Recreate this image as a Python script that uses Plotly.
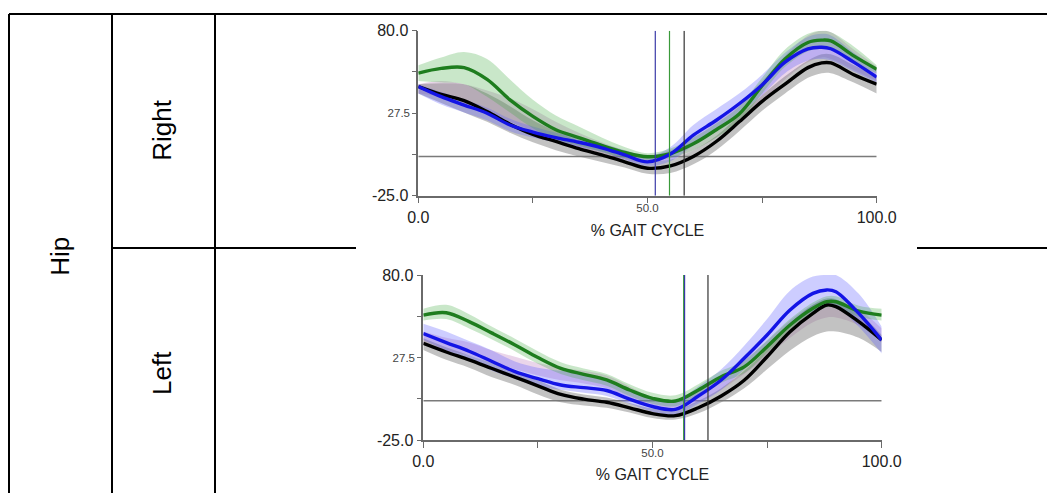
import plotly.graph_objects as go

W, H = 1047, 493

# ---------------- data ----------------
X = [0, 5, 10, 15, 20, 25, 30, 35, 40, 45, 50, 55, 60, 65, 70, 75, 80, 85, 88, 90, 95, 100]

# Right hip
R_green = [53, 56, 56.5, 49, 36, 25.5, 17, 12, 7, 2.5, -0.2, 1.8, 8, 17, 27, 45, 62, 72.5, 74, 73.5, 64, 55.5]
R_blue = [44.5, 38, 32.7, 27.5, 20, 15.5, 12, 9, 5.5, 1, -3.5, 1.5, 13.5, 23, 33.5, 45.5, 60, 68.5, 69.5, 68.5, 60, 50.5]
R_black = [44.5, 39.5, 35.5, 28.5, 20.5, 14, 9.5, 5, 1, -3.4, -7.5, -6, 0, 9.5, 22, 35, 46, 56.5, 59.5, 59.5, 52, 46]
R_green_hi = [58, 63, 66.5, 62, 49, 36, 26, 19, 12, 6, 2, 5, 12, 21, 32, 50, 68, 78, 80, 79, 70, 58]
R_green_lo = [48, 47, 46, 38, 28, 18, 11, 7, 3, -1, -2.5, -1, 4, 12, 22, 40, 57, 67, 68.5, 68, 59, 53]
R_blue_hi = [46, 41, 36, 31, 24, 19, 15, 12, 8, 4, 0, 6, 20, 30, 40, 52, 66, 76, 78, 77, 66, 55]
R_blue_lo = [40, 33, 28, 23, 16, 12, 9, 6, 3, -2, -6, -3, 7, 16, 27, 39, 53, 61, 62, 61, 54, 47]
R_gray_hi = [46, 46.5, 46, 40, 32, 23, 16, 10, 5, 0, -3, -2, 4, 13, 26, 39, 51, 61, 65, 65, 58, 51]
R_gray_lo = [40, 34, 28, 22, 15, 9, 4, 0, -3.5, -7, -11, -10.5, -5, 4, 16, 29, 40, 50, 53, 53, 47, 40]
R_pink_hi = [46, 48, 46, 42, 37, 30, 22, 15, 9, 4, 1, 4, 12, 22, 34, 48, 64, 77, 80, 79, 68, 57]
R_pink_lo = [40, 38, 34, 28, 22, 16, 11, 6, 2, -2, -4, -2, 4, 12, 23, 35, 49, 60, 63, 62, 55, 48]
R_events = {"blue": 51.7, "green": 54.8, "black": 58.0}

# Left hip
L_green = [54.5, 56, 50.3, 43, 35.5, 27.5, 20.6, 16.8, 13.2, 6.8, 1.5, -0.2, 6.8, 15.3, 21.5, 34.4, 48.2, 58.8, 63, 63, 57, 54.5]
L_blue = [42.7, 37, 31.5, 25, 18.5, 14, 10, 8.3, 6.5, 1, -3.7, -5.5, 3, 13.2, 27, 41.8, 57.7, 68.3, 70.5, 69.4, 55.6, 38.6]
L_black = [36.5, 31, 26, 20.5, 15, 9.5, 4, 1, -1, -4.5, -8.2, -9.5, -4.5, 3, 13, 28, 43.9, 55.6, 60.9, 59.9, 50.3, 38.6]
L_green_hi = [58.5, 61, 55, 47, 39.5, 31.5, 24.5, 20.5, 17, 10.5, 5, 3.5, 10.5, 19, 25.5, 38.5, 52, 62.5, 66.5, 66.5, 60.5, 58.5]
L_green_lo = [51, 52, 46, 39, 31.5, 23.5, 17, 13, 9.5, 3, -2, -3.5, 3, 11.5, 17.5, 30.5, 44.5, 55, 59.5, 59.5, 53.5, 51]
L_blue_hi = [49, 44, 38, 32, 25, 21, 19, 17, 13, 7, 1, 0, 9, 20, 35, 52, 70, 79, 80, 80, 68, 47]
L_blue_lo = [38.6, 32, 26, 19, 14, 9, 7, 5, 3, -2, -7, -9, -2, 7, 20, 33, 47, 57, 60, 60, 47, 30]
L_gray_hi = [39.7, 34, 29, 24, 18.5, 13, 7, 4, 2, -1.5, -5, -6, 0, 8, 19, 33, 49, 61, 65, 64.5, 56, 41.8]
L_gray_lo = [32.3, 26, 21, 15, 10, 4, -1, -3, -4.5, -7.5, -11, -12, -8, -1, 8, 20, 32, 41, 44, 44, 40, 31]
L_pink_hi = [44, 40, 37, 32, 28, 24, 21, 19, 16, 9, 2, 0, 6, 15, 26, 38, 51, 61, 64, 64, 58, 46]
L_pink_lo = [36, 32, 29, 24, 20, 16, 13, 11, 8, 2, -4, -6, -1, 7, 17, 28, 40, 50, 53, 53, 48, 37]
L_events = {"green": 56.8, "blue": 57.0, "black": 62.1}

Y_RANGE = [-25, 80]
X_RANGE = [0, 100]
Y_TICKS = [-25, 1.25, 27.5, 53.75, 80]
Y_TICKTEXT = ["-25.0", "", "", "", "80.0"]
Y_MID_TICK = [27.5]
Y_MID_TEXT = ["27.5"]
X_TICKS = [0, 25, 50, 75, 100]
X_TICKTEXT = ["0.0", "", "", "", "100.0"]
X_MID_TICK = [50]
X_MID_TEXT = ["50.0"]
X_TITLE = "% GAIT CYCLE"

ROW_LABELS = ["Right", "Left"]
GROUP_LABEL = "Hip"

FONT = "Liberation Sans, Arial, sans-serif"
LINE_COL = {"green": "#1e7d1e", "blue": "#1414e6", "black": "#000000"}
BAND_COL = {"pink": "rgba(185,115,185,0.30)", "gray": "rgba(120,120,120,0.45)",
            "blue": "rgba(90,90,255,0.30)", "green": "rgba(60,170,60,0.28)"}
EVENT_COL = {"green": "#3a9a3a", "blue": "#3a3aa8", "black": "#333333"}

fig = go.Figure()


def add_band(lo, hi, color, xa, ya):
    fig.add_trace(go.Scatter(x=X, y=lo, mode="lines", line=dict(width=0, shape="spline"),
                             xaxis=xa, yaxis=ya, showlegend=False, hoverinfo="skip"))
    fig.add_trace(go.Scatter(x=X, y=hi, mode="lines", line=dict(width=0, shape="spline"),
                             fill="tonexty", fillcolor=color,
                             xaxis=xa, yaxis=ya, showlegend=False, hoverinfo="skip"))


def add_line(y, color, xa, ya):
    fig.add_trace(go.Scatter(x=X, y=y, mode="lines", line=dict(color=color, width=3.4, shape="spline"),
                             xaxis=xa, yaxis=ya, showlegend=False))


panels = [
    ("x", "y", dict(pink=(R_pink_lo, R_pink_hi), gray=(R_gray_lo, R_gray_hi),
                    blue=(R_blue_lo, R_blue_hi), green=(R_green_lo, R_green_hi)),
     dict(black=R_black, green=R_green, blue=R_blue), R_events),
    ("x2", "y2", dict(pink=(L_pink_lo, L_pink_hi), gray=(L_gray_lo, L_gray_hi),
                      blue=(L_blue_lo, L_blue_hi), green=(L_green_lo, L_green_hi)),
     dict(black=L_black, green=L_green, blue=L_blue), L_events),
]

for xa, ya, bands, lines, events in panels:
    for k in ["pink", "gray", "blue", "green"]:
        add_band(bands[k][0], bands[k][1], BAND_COL[k], xa, ya)
    for k in ["black", "green", "blue"]:
        add_line(lines[k], LINE_COL[k], xa, ya)
    fig.add_shape(type="line", xref=xa, yref=ya, x0=X_RANGE[0], x1=X_RANGE[1], y0=0, y1=0,
                  line=dict(color="#7a7a7a", width=1.5), layer="below")
    for k, v in events.items():
        fig.add_shape(type="line", xref=xa, yref=ya, x0=v, x1=v, y0=Y_RANGE[0], y1=Y_RANGE[1],
                      line=dict(color=EVENT_COL[k], width=1.2), layer="above")

# empty traces so that the overlaid label axes are created
for xa, ya in [("x3", "y"), ("x", "y3"), ("x4", "y2"), ("x2", "y4")]:
    fig.add_trace(go.Scatter(x=[], y=[], xaxis=xa, yaxis=ya, showlegend=False, hoverinfo="skip"))


def px(x):
    return x / W


def py(y):
    return 1 - y / H


dom_top_x = [px(418.3), px(876.7)]
dom_top_y = [py(195.7), py(30.7)]
dom_bot_x = [px(423.3), px(881.7)]
dom_bot_y = [py(440), py(275)]

big = dict(family=FONT, size=16, color="#222222")
small = dict(family=FONT, size=11.5, color="#444444")

common_x = dict(range=X_RANGE, showgrid=False, zeroline=False, showline=True, linecolor="#6a6a6a",
                linewidth=1.5, ticks="outside", ticklen=6, tickcolor="#6a6a6a", tickwidth=1.2,
                tickvals=X_TICKS, ticktext=X_TICKTEXT, tickfont=big, automargin=False,
                title=dict(text=X_TITLE, font=dict(family=FONT, size=16, color="#222222"), standoff=0))
common_y = dict(range=Y_RANGE, showgrid=False, zeroline=False, showline=True, linecolor="#6a6a6a",
                linewidth=1.5, ticks="outside", ticklen=5, tickcolor="#6a6a6a", tickwidth=1.2,
                tickvals=Y_TICKS, ticktext=Y_TICKTEXT, tickfont=big, automargin=False)
over_x = dict(range=X_RANGE, showgrid=False, zeroline=False, showline=False, ticks="",
              tickvals=X_MID_TICK, ticktext=X_MID_TEXT, tickfont=small, automargin=False,
              ticklabelstandoff=4)
over_y = dict(range=Y_RANGE, showgrid=False, zeroline=False, showline=False, ticks="outside",
              ticklen=5, tickcolor="rgba(0,0,0,0)", tickvals=Y_MID_TICK, ticktext=Y_MID_TEXT,
              tickfont=small, automargin=False)

fig.update_layout(
    width=W, height=H, autosize=False,
    margin=dict(l=0, r=0, t=0, b=0),
    paper_bgcolor="white", plot_bgcolor="rgba(0,0,0,0)",
    font=dict(family=FONT),
    xaxis=dict(domain=dom_top_x, anchor="y", **common_x),
    yaxis=dict(domain=dom_top_y, anchor="x", **common_y),
    xaxis2=dict(domain=dom_bot_x, anchor="y2", **common_x),
    yaxis2=dict(domain=dom_bot_y, anchor="x2", **common_y),
    xaxis3=dict(overlaying="x", anchor="y", **over_x),
    yaxis3=dict(overlaying="y", anchor="x", **over_y),
    xaxis4=dict(overlaying="x2", anchor="y2", **over_x),
    yaxis4=dict(overlaying="y2", anchor="x2", **over_y),
)

# table grid
tbl = dict(color="black", width=2)
segments = [
    (9, 14, 1047, 14),
    (9, 14, 9, 493),
    (112, 14, 112, 493),
    (215, 14, 215, 493),
    (112, 248, 356, 248),
    (917, 248, 1047, 248),
]
for x0, y0, x1, y1 in segments:
    fig.add_shape(type="line", xref="paper", yref="paper", x0=px(x0), y0=py(y0), x1=px(x1), y1=py(y1),
                  line=tbl, layer="above")

lab_font = dict(family=FONT, size=26, color="black")
for text, cx, cy in [(GROUP_LABEL, 60, 256.7), (ROW_LABELS[0], 161.7, 130), (ROW_LABELS[1], 162, 373)]:
    fig.add_annotation(x=px(cx), y=py(cy), xref="paper", yref="paper", text=text,
                       xanchor="center", yanchor="middle",
                       textangle=-90, showarrow=False, font=lab_font)

fig.write_html("out.html")
